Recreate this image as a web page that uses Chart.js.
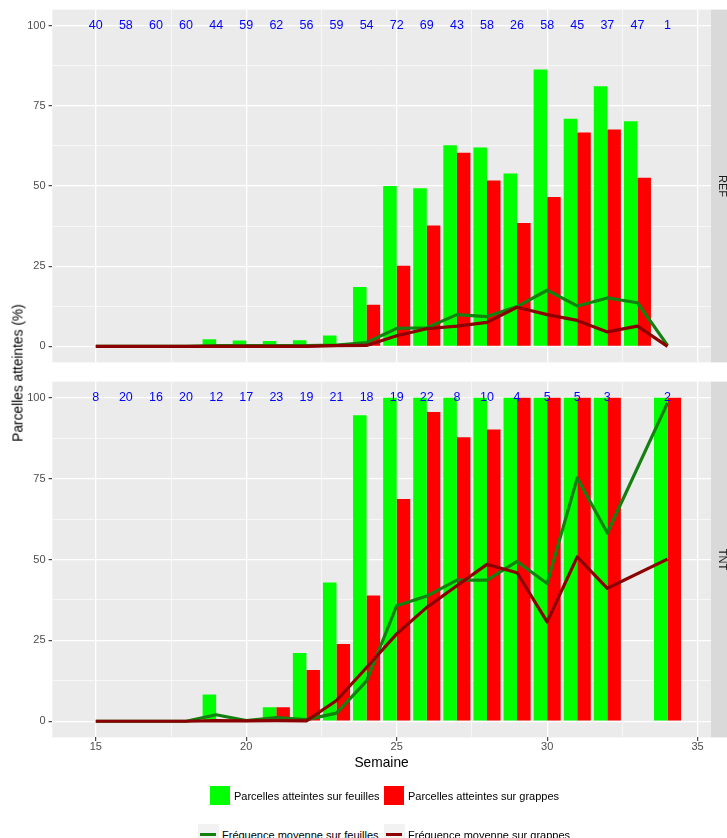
<!DOCTYPE html>
<html lang="fr">
<head>
<meta charset="utf-8">
<title>Parcelles atteintes</title>
<script src="https://cdn.jsdelivr.net/npm/chart.js@4.4.1/dist/chart.umd.min.js"></script>
<style>
body{margin:0;width:727px;height:838px;overflow:hidden;background:#fff;position:relative;font-family:"Liberation Sans",Arial,sans-serif;color:#000}
canvas{position:absolute;left:0}
#c-ref{top:0}
#c-tnt{top:372px}
.titre-y{position:absolute;left:18px;top:373px;transform:translate(-50%,-50%) rotate(-90deg);font-size:13.75px;white-space:nowrap}
.titre-x{position:absolute;left:381.6px;top:762px;transform:translate(-50%,-50%);font-size:13.75px;white-space:nowrap}
.item{position:absolute;display:flex;align-items:center;font-size:11px;white-space:nowrap;color:#000}
.cle{width:20px;height:19px;margin-right:4px}
.cle-ligne{width:21px;height:21px;margin-right:3px;background:#f2f2f2;position:relative}
.cle-ligne span{position:absolute;left:2px;right:3px;top:9px;height:3px}
</style>
</head>
<body>
<canvas id="c-ref" width="727" height="372"></canvas>
<canvas id="c-tnt" width="727" height="386"></canvas>
<div class="titre-y">Parcelles atteintes (%)</div>
<div class="titre-x">Semaine</div>

<div class="item" style="left:210px;top:786px;height:19px"><div class="cle" style="background:#00ff00"></div>Parcelles atteintes sur feuilles</div>
<div class="item" style="left:384px;top:786px;height:19px"><div class="cle" style="background:#ff0000"></div>Parcelles atteintes sur grappes</div>
<div class="item" style="left:198px;top:824px;height:21px"><div class="cle-ligne"><span style="background:#13800f"></span></div>Fréquence moyenne sur feuilles</div>
<div class="item" style="left:384px;top:824px;height:21px"><div class="cle-ligne"><span style="background:#8b0000"></span></div>Fréquence moyenne sur grappes</div>

<script>
// REF : semaines 15 a 34
const semainesRef = [15,16,17,18,19,20,21,22,23,24,25,26,27,28,29,30,31,32,33,34];
const effectifsRef = [40,58,60,60,44,59,62,56,59,54,72,69,43,58,26,58,45,37,47,1];
const feuillesRef = [0,0,0,0,2.2,1.8,1.7,1.9,3.4,18.5,50.0,49.3,62.7,62.0,53.9,86.3,71.0,81.1,70.2,0];
const grappesRef  = [0,0,0,0,0,0,0,0,0,13.0,25.1,37.7,60.4,51.7,38.5,46.6,66.7,67.6,52.6,0];
const freqFeuillesRef = [0,0,0,0,0.2,0.2,0.2,0.2,0.4,1.2,5.6,5.8,9.9,9.3,12.4,17.5,12.6,15.1,13.6,0.3];
const freqGrappesRef  = [0,0,0,0,0,0,0,0,0.2,0.3,3.3,5.5,6.3,7.5,12.2,9.9,8.1,4.5,6.3,0];

// TNT : pas de semaine 33
const semainesTnt = [15,16,17,18,19,20,21,22,23,24,25,26,27,28,29,30,31,32,34];
const effectifsTnt = [8,20,16,20,12,17,23,19,21,18,19,22,8,10,4,5,5,3,2];
const feuillesTnt = [0,0,0,0,8.3,0,4.3,21.1,42.9,94.6,100,100,100,100,100,100,100,100,100];
const grappesTnt  = [0,0,0,0,0,0,4.3,15.8,23.9,38.9,68.7,95.6,87.8,90.2,100,100,100,100,100];
const freqFeuillesTnt = [0,0,0,0,2.0,0.2,1.1,0.5,2.5,12.5,35.7,38.7,43.6,43.6,49.4,42.6,75.2,58.2,98.4];
const freqGrappesTnt  = [0,0,0,0,0.2,0.1,0.2,0.1,6.4,16.6,27.0,35.2,41.9,48.5,45.9,30.7,50.8,41.1,50.1];

// axes
const xGrille = [15,17.5,20,22.5,25,27.5,30,32.5,35];
const xEtiquettes = [15,20,25,30,35];
const yGrille = [0,12.5,25,37.5,50,62.5,75,87.5,100];
const yEtiquettes = [0,25,50,75,100];

const VERT = '#00ff00', ROUGE = '#ff0000', VERT_FONCE = '#13800f', ROUGE_FONCE = '#8b0000';

Chart.defaults.font.family = '"Liberation Sans", Arial, sans-serif';

function echelles(axeX, hauteurX) {
  return {
    x: {
      type: 'linear', min: 13.555, max: 35.445, offset: false,
      afterBuildTicks: s => { s.ticks = xGrille.map(v => ({value: v})); },
      afterFit: s => { s.height = hauteurX; },
      grid: {
        offset: false, color: '#fff',
        lineWidth: c => xEtiquettes.includes(c.tick.value) ? 1.3 : 0.6,
        drawTicks: axeX, tickLength: 3.7, tickWidth: 1.1,
        tickColor: c => xEtiquettes.includes(c.tick.value) ? '#333' : 'rgba(0,0,0,0)'
      },
      border: {display: false},
      ticks: {
        display: axeX, autoSkip: false, maxRotation: 0, padding: 0.7,
        color: '#4d4d4d', font: {size: 11, lineHeight: 1},
        callback: v => xEtiquettes.includes(v) ? String(v) : ''
      }
    },
    y: {
      type: 'linear', min: -5, max: 105,
      afterBuildTicks: s => { s.ticks = yGrille.map(v => ({value: v})); },
      afterFit: s => { s.width = 52.3; },
      grid: {
        color: '#fff',
        lineWidth: c => yEtiquettes.includes(c.tick.value) ? 1.3 : 0.6,
        tickLength: 3.7, tickWidth: 1.1,
        tickColor: c => yEtiquettes.includes(c.tick.value) ? '#333' : 'rgba(0,0,0,0)'
      },
      border: {display: false},
      ticks: {
        padding: 3, color: '#4d4d4d', font: {size: 11},
        callback: v => yEtiquettes.includes(v) ? String(v) : ''
      }
    }
  };
}

function jeux(semaines, feuilles, grappes, freqF, freqG) {
  const pts = vals => semaines.map((s, i) => ({x: s, y: vals[i]}));
  const ligne = {type: 'line', pointRadius: 0, borderWidth: 3.2, tension: 0, borderJoinStyle: 'round', borderCapStyle: 'butt', fill: false};
  return [
    Object.assign({label: 'Fréquence moyenne sur grappes', data: pts(freqG), borderColor: ROUGE_FONCE, order: 1}, ligne),
    Object.assign({label: 'Fréquence moyenne sur feuilles', data: pts(freqF), borderColor: VERT_FONCE, order: 2}, ligne),
    {type: 'bar', label: 'Parcelles atteintes sur feuilles', data: pts(feuilles), backgroundColor: VERT, borderWidth: 0, order: 3, categoryPercentage: 0.9, barPercentage: 1},
    {type: 'bar', label: 'Parcelles atteintes sur grappes', data: pts(grappes), backgroundColor: ROUGE, borderWidth: 0, order: 3, categoryPercentage: 0.9, barPercentage: 1}
  ];
}

function panneau(nom, semaines, effectifs) {
  return {
    id: 'panneau',
    beforeDraw(chart) {
      const a = chart.chartArea, ctx = chart.ctx;
      ctx.save();
      ctx.fillStyle = '#ebebeb';
      ctx.fillRect(a.left, a.top, a.right - a.left, a.bottom - a.top);
      ctx.restore();
    },
    afterDatasetsDraw(chart) {
      const {ctx, scales: {x, y}} = chart;
      ctx.save();
      ctx.fillStyle = '#0000ff';
      ctx.font = '12.5px "Liberation Sans", Arial, sans-serif';
      ctx.textAlign = 'center';
      ctx.textBaseline = 'middle';
      semaines.forEach((s, i) => ctx.fillText(String(effectifs[i]), x.getPixelForValue(s), y.getPixelForValue(100)));
      ctx.restore();
    },
    afterDraw(chart) {
      const a = chart.chartArea, ctx = chart.ctx;
      ctx.save();
      ctx.fillStyle = '#d9d9d9';
      ctx.fillRect(a.right, a.top, 30, a.bottom - a.top);
      ctx.translate(a.right + 11, (a.top + a.bottom) / 2);
      ctx.rotate(Math.PI / 2);
      ctx.fillStyle = '#1a1a1a';
      ctx.font = '11px "Liberation Sans", Arial, sans-serif';
      ctx.textAlign = 'center';
      ctx.textBaseline = 'middle';
      ctx.fillText(nom, 0, 0);
      ctx.restore();
    }
  };
}

function graphe(id, nom, semaines, effectifs, series, axeX, hauteurX, padHaut, padBas) {
  return new Chart(document.getElementById(id), {
    type: 'bar',
    data: {datasets: jeux(semaines, ...series)},
    options: {
      responsive: false, animation: false, devicePixelRatio: 1,
      layout: {padding: {left: 0, right: 16, top: padHaut, bottom: padBas}},
      plugins: {legend: {display: false}, tooltip: {enabled: false}},
      scales: echelles(axeX, hauteurX)
    },
    plugins: [panneau(nom, semaines, effectifs)]
  });
}

graphe('c-ref', 'REF', semainesRef, effectifsRef,
  [feuillesRef, grappesRef, freqFeuillesRef, freqGrappesRef], false, 0, 9.2, 2.3);
graphe('c-tnt', 'TNT', semainesTnt, effectifsTnt,
  [feuillesTnt, grappesTnt, freqFeuillesTnt, freqGrappesTnt], true, 20.6, 4.9, 0);
</script>
</body>
</html>
